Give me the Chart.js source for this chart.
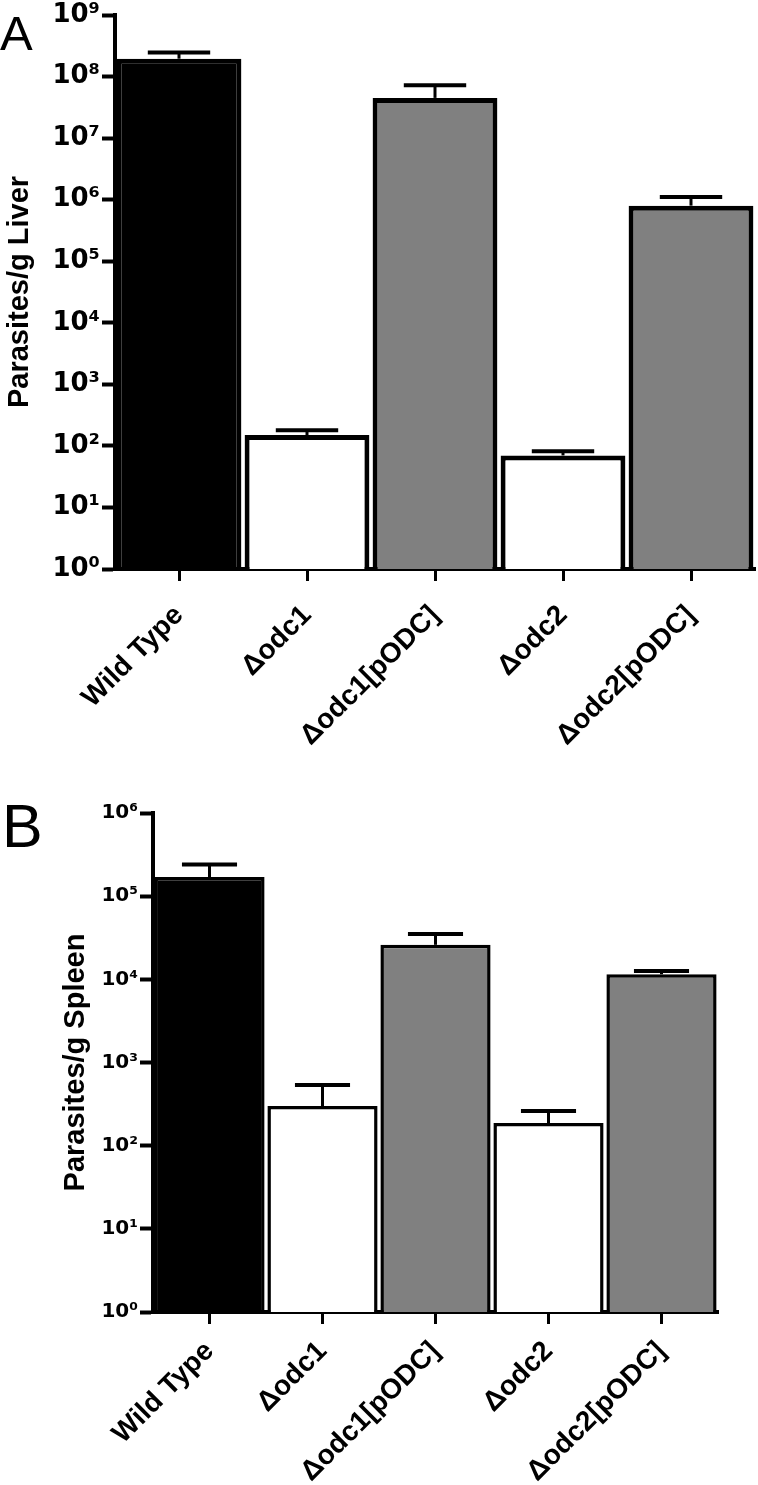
<!DOCTYPE html>
<html>
<head>
<meta charset="utf-8">
<script src="https://cdn.jsdelivr.net/npm/chart.js@4.4.1/dist/chart.umd.min.js"></script>
<style>
  html, body { margin: 0; padding: 0; background: #fff; }
  .panel { position: absolute; left: 0; width: 758px; }
  #wrapA { top: 0; height: 760px; }
  #wrapB { top: 760px; height: 725px; }
</style>
</head>
<body>
<div class="panel" id="wrapA"><canvas id="chartA"></canvas></div>
<div class="panel" id="wrapB"><canvas id="chartB"></canvas></div>
<script>
// categories and fills
const strains = ['Wild Type', 'Δodc1', 'Δodc1[pODC]', 'Δodc2', 'Δodc2[pODC]'];
const barColors = ['#000000', '#ffffff', '#808080', '#ffffff', '#808080'];

// A: liver burden (mean and top of error bar)
const liverMean = [1.95e8, 150, 4.5e7, 70, 8.0e5];
const liverUpper = [2.45e8, 180, 7.2e7, 82, 1.1e6];
const liverTickValues = [1, 10, 1e2, 1e3, 1e4, 1e5, 1e6, 1e7, 1e8, 1e9];
const liverTickLabels = ['10⁰', '10¹', '10²', '10³', '10⁴', '10⁵', '10⁶', '10⁷', '10⁸', '10⁹'];

// B: spleen burden
const spleenMean = [1.7e5, 300, 2.6e4, 187, 1.15e4];
const spleenUpper = [2.4e5, 537, 3.5e4, 262, 1.26e4];
const spleenTickValues = [1, 10, 1e2, 1e3, 1e4, 1e5, 1e6];
const spleenTickLabels = ['10⁰', '10¹', '10²', '10³', '10⁴', '10⁵', '10⁶'];

// upper-only error bars with a cap half as wide as the bar
const errorBars = {
    id: 'errorBars',
    afterDatasetsDraw(chart, args, opts) {
        const ctx = chart.ctx;
        const yScale = chart.scales.y;
        const meta = chart.getDatasetMeta(0);
        ctx.save();
        ctx.strokeStyle = '#000';
        meta.data.forEach((bar, i) => {
            const top = yScale.getPixelForValue(opts.upper[i]);
            const half = bar.width / 4;
            ctx.lineWidth = opts.stem;
            ctx.beginPath();
            ctx.moveTo(bar.x, bar.y);
            ctx.lineTo(bar.x, top);
            ctx.stroke();
            ctx.lineWidth = opts.cap;
            ctx.beginPath();
            ctx.moveTo(bar.x - half, top);
            ctx.lineTo(bar.x + half, top);
            ctx.stroke();
        });
        ctx.restore();
    }
};

// panel letter (A / B)
const panelLetter = {
    id: 'panelLetter',
    afterDraw(chart, args, opts) {
        const ctx = chart.ctx;
        ctx.save();
        ctx.fillStyle = '#000';
        ctx.font = `${opts.size}px "Liberation Sans", Arial, sans-serif`;
        ctx.textBaseline = 'alphabetic';
        ctx.fillText(opts.text, opts.x, opts.y);
        ctx.restore();
    }
};

const makeChart = (canvasId, mean, upper, tickValues, tickLabels, cfg) => {
    const ctx = document.getElementById(canvasId).getContext('2d');
    return new Chart(ctx, {
        type: 'bar',
        data: {
            labels: strains,
            datasets: [{
                data: mean,
                backgroundColor: barColors,
                borderColor: '#000',
                borderWidth: cfg.border,
                barPercentage: 0.975,
                categoryPercentage: 1
            }]
        },
        options: {
            responsive: true,
            maintainAspectRatio: false,
            animation: false,
            layout: { padding: { left: 0, top: cfg.padTop, right: cfg.padRight, bottom: 0 } },
            plugins: {
                legend: { display: false },
                tooltip: { enabled: false },
                errorBars: { upper: upper, stem: 3, cap: 4 },
                panelLetter: cfg.letter
            },
            scales: {
                x: {
                    offset: true,
                    afterFit: s => { s.height = cfg.axisBottom; },
                    grid: { offset: false, drawOnChartArea: false, tickLength: 12, tickWidth: 3, tickColor: '#000' },
                    border: { display: true, color: '#000', width: 4 },
                    ticks: {
                        autoSkip: false, maxRotation: 45, minRotation: 45, padding: cfg.labelPad, color: '#000',
                        font: { family: 'Liberation Sans', weight: 'bold', size: 28 }
                    }
                },
                y: {
                    type: 'logarithmic',
                    min: tickValues[0],
                    max: tickValues[tickValues.length - 1],
                    afterBuildTicks: s => { s.ticks = tickValues.map(v => ({ value: v })); },
                    afterFit: s => { s.width = cfg.axisLeft; },
                    grid: { drawOnChartArea: false, tickLength: 13, tickWidth: 4, tickColor: '#000' },
                    border: { display: true, color: '#000', width: 4 },
                    ticks: {
                        autoSkip: false, padding: 2, color: '#000',
                        font: { family: 'DejaVu Sans', weight: 'bold', size: cfg.tickSize, lineHeight: 1 },
                        callback: (value, index) => tickLabels[index]
                    },
                    title: {
                        display: true, text: cfg.title, color: '#000',
                        font: { family: 'Liberation Sans', weight: 'bold', size: 29 },
                        padding: { top: cfg.titlePad, bottom: 0 }
                    }
                }
            }
        },
        plugins: [errorBars, panelLetter]
    });
};

makeChart('chartA', liverMean, liverUpper, liverTickValues, liverTickLabels, {
    border: 5, padTop: 15, padRight: 3, axisBottom: 191, axisLeft: 115,
    tickSize: 26, title: 'Parasites/g Liver', titlePad: 3, labelPad: 18,
    letter: { text: 'A', size: 49, x: 0, y: 50 }
});

makeChart('chartB', spleenMean, spleenUpper, spleenTickValues, spleenTickLabels, {
    border: 3.5, padTop: 53, padRight: 40, axisBottom: 173, axisLeft: 153,
    tickSize: 20, title: 'Parasites/g Spleen', titlePad: 59, labelPad: 11,
    letter: { text: 'B', size: 61, x: 2, y: 87 }
});
</script>
</body>
</html>
